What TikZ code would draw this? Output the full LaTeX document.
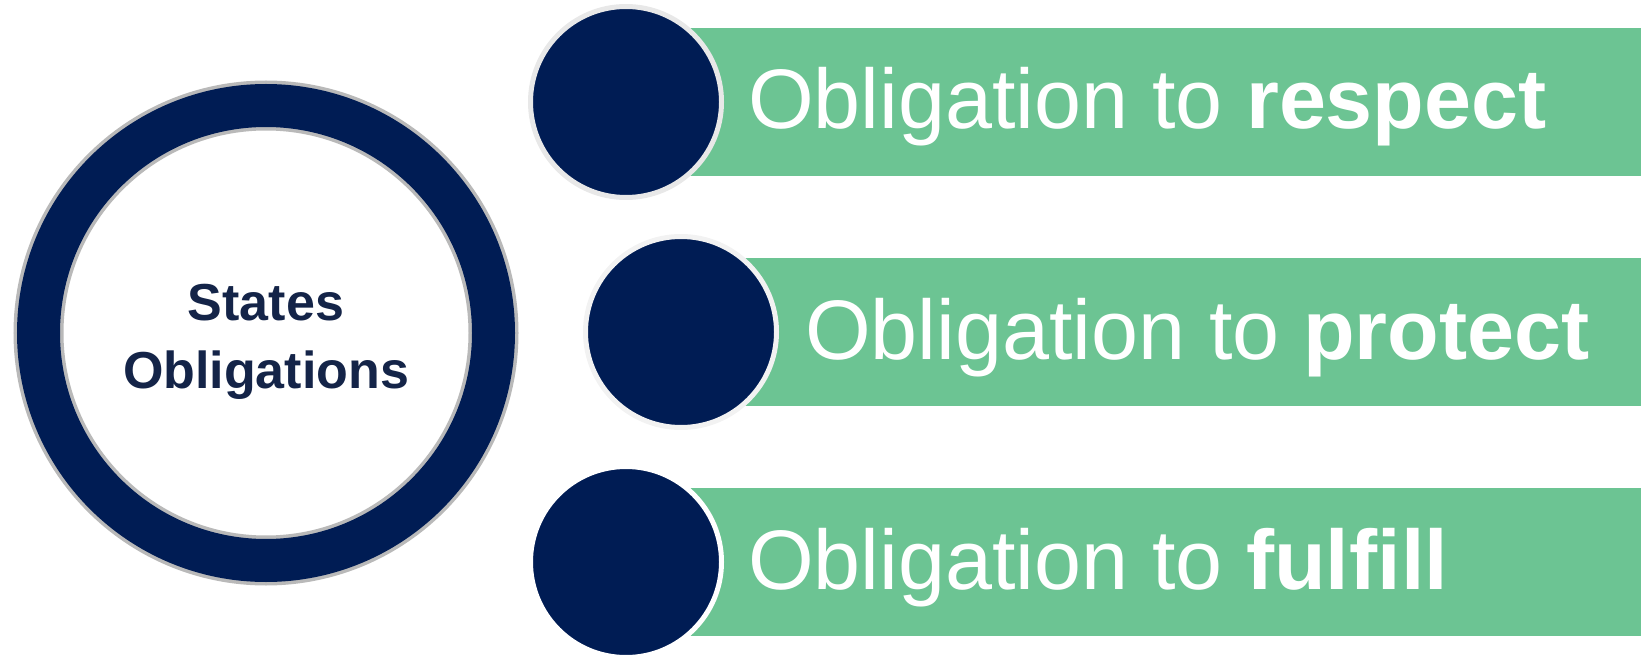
\documentclass[tikz,border=0pt]{standalone}
\usepackage{fontspec}
\setmainfont{Liberation Sans}
\definecolor{navy}{RGB}{0,28,84}
\definecolor{inkblue}{RGB}{20,36,72}
\definecolor{leaf}{RGB}{108,196,147}
\definecolor{rimgray}{RGB}{185,185,185}
\definecolor{halo}{RGB}{232,232,232}
\definecolor{halolight}{RGB}{242,242,242}
\tikzset{
  ring/.style={circle, fill=white, draw=rimgray, double=navy, double distance=43pt,
    line width=3.5pt, minimum size=455pt, inner sep=0pt},
  hubtext/.style={text=inkblue, align=center, inner sep=0pt,
    font=\bfseries\fontsize{52}{68}\selectfont},
  bar/.style={fill=leaf, minimum height=148pt, inner sep=0pt, anchor=west},
  dot/.style={circle, fill=navy, draw=#1, line width=5pt, minimum size=191pt, inner sep=0pt},
  duty/.style={text=white, anchor=base west, inner sep=0pt,
    font=\fontsize{84.5}{100}\selectfont},
}
\begin{document}
\begin{tikzpicture}[x=1pt, y=-1pt]
  \useasboundingbox (0,0) rectangle (1641,655);

  \node[ring] (state) at (266,333) {};
  \node[hubtext, yshift=-9pt] (statename) at (state.center) {States\\Obligations};

  \node[bar, minimum width=951pt] (bar1) at (690,102) {};
  \node[bar, minimum width=896pt] (bar2) at (745,332) {};
  \node[bar, minimum width=951pt] (bar3) at (690,562) {};

  \node[dot=halo] (dot1) at (626,102) {};
  \node[dot=halolight] (dot2) at (681,332) {};
  \node[dot=white] (dot3) at (626,562) {};

  \node[duty] (respect) at (748,129) {Obligation to \textbf{respect}};
  \node[duty] (protect) at (805,359) {Obligation to \textbf{protect}};
  \node[duty] (fulfill) at (748,589) {Obligation to \textbf{fulfill}};
\end{tikzpicture}
\end{document}
